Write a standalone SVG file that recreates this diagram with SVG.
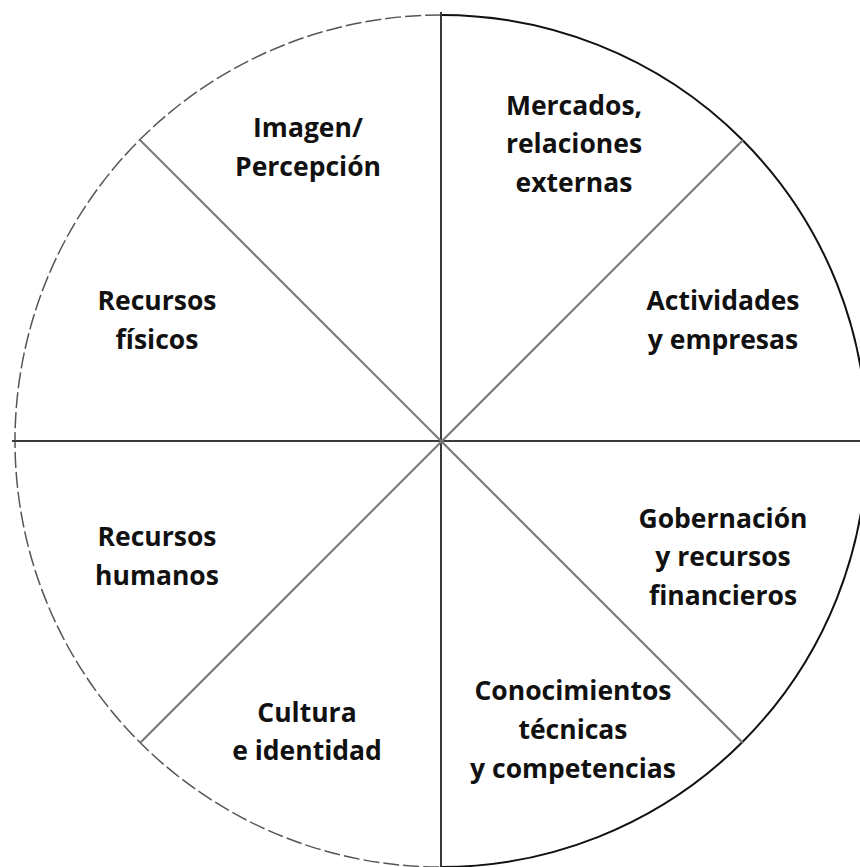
<svg xmlns="http://www.w3.org/2000/svg" width="860" height="867" viewBox="0 0 860 867">
<style>
.lbl{font-family:"Open Sans","DejaVu Sans",sans-serif;font-weight:700;font-size:26.5px;fill:#111;text-anchor:middle}
.ax{stroke:#3a3a3a;stroke-width:2;fill:none}
.dg{stroke:#777;stroke-width:2;fill:none}
</style>
<rect width="860" height="867" fill="#fff"/>
<g id="circle">
<path d="M441,15 A426,426 0 0 1 441,867" stroke="#111" stroke-width="2" fill="none"/>
<path d="M441,15 A426,426 0 0 0 441,867" stroke="#555" stroke-width="1.5" stroke-dasharray="16 4" fill="none"/>
</g>
<g id="connectors">
<line class="ax" x1="441" y1="12" x2="441" y2="867"/>
<line class="ax" x1="12" y1="441" x2="860" y2="441"/>
<line class="dg" x1="140" y1="140" x2="743" y2="743"/>
<line class="dg" x1="743" y1="140" x2="140" y2="743"/>
</g>
<g id="imagen"><text class="lbl" x="308" y="137">Imagen/</text><text class="lbl" x="308" y="176">Percepción</text></g>
<g id="mercados"><text class="lbl" x="574" y="115">Mercados,</text><text class="lbl" x="574" y="153">relaciones</text><text class="lbl" x="574" y="192">externas</text></g>
<g id="actividades"><text class="lbl" x="723" y="310">Actividades</text><text class="lbl" x="723" y="349">y empresas</text></g>
<g id="fisicos"><text class="lbl" x="157" y="310">Recursos</text><text class="lbl" x="157" y="349">físicos</text></g>
<g id="humanos"><text class="lbl" x="157" y="546">Recursos</text><text class="lbl" x="157" y="585">humanos</text></g>
<g id="gobernacion"><text class="lbl" x="723" y="528">Gobernación</text><text class="lbl" x="723" y="566">y recursos</text><text class="lbl" x="723" y="605">financieros</text></g>
<g id="cultura"><text class="lbl" x="307" y="722">Cultura</text><text class="lbl" x="307" y="760">e identidad</text></g>
<g id="conocimientos"><text class="lbl" x="573" y="700">Conocimientos</text><text class="lbl" x="573" y="739">técnicas</text><text class="lbl" x="573" y="778">y competencias</text></g>
</svg>
